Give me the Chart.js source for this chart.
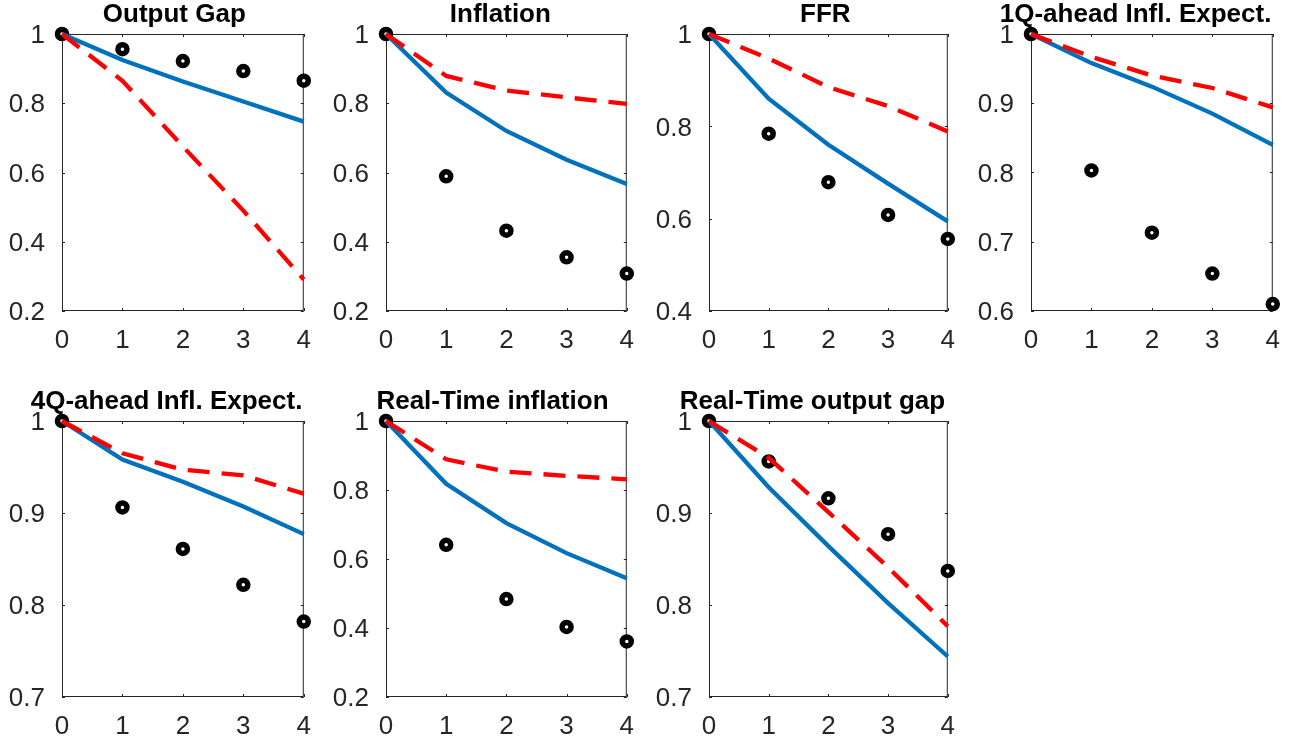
<!DOCTYPE html>
<html><head><meta charset="utf-8">
<script src="https://cdn.jsdelivr.net/npm/chart.js@4.4.1/dist/chart.umd.min.js"></script>
<style>
html,body{margin:0;padding:0;background:#fff;width:1298px;height:743px;overflow:hidden}
.panel{position:absolute}
</style></head><body>
<script>
// ---------- data ----------
const horizons = [0, 1, 2, 3, 4];
const titles = ['Output Gap', 'Inflation', 'FFR', '1Q-ahead Infl. Expect.',
                '4Q-ahead Infl. Expect.', 'Real-Time inflation', 'Real-Time output gap'];

// solid blue line
const solidOutputGap  = [1, 0.925, 0.863, 0.805, 0.747];
const solidInflation  = [1, 0.831, 0.720, 0.637, 0.567];
const solidFFR        = [1, 0.860, 0.760, 0.676, 0.594];
const solid1Q         = [1, 0.958, 0.924, 0.885, 0.840];
const solid4Q         = [1, 0.958, 0.934, 0.907, 0.877];
const solidRTInfl     = [1, 0.818, 0.704, 0.617, 0.544];
const solidRTGap      = [1, 0.928, 0.864, 0.802, 0.744];

// dashed red line
const dashedOutputGap = [1, 0.865, 0.675, 0.490, 0.291];
const dashedInflation = [1, 0.879, 0.837, 0.817, 0.798];
const dashedFFR       = [1, 0.947, 0.885, 0.844, 0.789];
const dashed1Q        = [1, 0.967, 0.940, 0.922, 0.894];
const dashed4Q        = [1, 0.965, 0.947, 0.941, 0.921];
const dashedRTInfl    = [1, 0.889, 0.853, 0.841, 0.831];
const dashedRTGap     = [1, 0.960, 0.901, 0.841, 0.777];

// black circles
const dotsOutputGap   = [1, 0.956, 0.922, 0.893, 0.865];
const dotsInflation   = [1, 0.589, 0.432, 0.355, 0.308];
const dotsFFR         = [1, 0.784, 0.679, 0.608, 0.556];
const dots1Q          = [1, 0.803, 0.713, 0.654, 0.610];
const dots4Q          = [1, 0.906, 0.861, 0.822, 0.782];
const dotsRTInfl      = [1, 0.641, 0.484, 0.403, 0.361];
const dotsRTGap       = [1, 0.956, 0.916, 0.877, 0.837];

// y tick values per panel
const yTicksA = [0.2, 0.4, 0.6, 0.8, 1];
const yTicksB = [0.4, 0.6, 0.8, 1];
const yTicksC = [0.6, 0.7, 0.8, 0.9, 1];
const yTicksD = [0.7, 0.8, 0.9, 1];

const solidSeries  = [solidOutputGap, solidInflation, solidFFR, solid1Q, solid4Q, solidRTInfl, solidRTGap];
const dashedSeries = [dashedOutputGap, dashedInflation, dashedFFR, dashed1Q, dashed4Q, dashedRTInfl, dashedRTGap];
const dotSeries    = [dotsOutputGap, dotsInflation, dotsFFR, dots1Q, dots4Q, dotsRTInfl, dotsRTGap];
const yTickSets    = [yTicksA, yTicksA, yTicksB, yTicksC, yTicksD, yTicksA, yTicksD];

// ---------- layout ----------
const plotLefts   = [62, 386, 709, 1031, 62, 386, 709];
const plotWidths  = [247, 246, 244, 247, 247, 246, 244];
const plotTops    = [34, 34, 34, 34, 421, 421, 421];
const plotHeights = [277, 277, 277, 277, 276, 276, 276];
const AXW = 62, TOPH = 34, BOTH = 46, RIGHTPAD = 16;
const FONT = '"Liberation Sans", Arial, Helvetica, sans-serif';
const AXCOL = '#262626';

const matlabPlugin = {
  id: 'matlab',
  beforeDatasetsDraw(chart) {
    const {ctx, chartArea: a, scales: {x, y}} = chart;
    ctx.save();
    ctx.strokeStyle = AXCOL;
    ctx.lineWidth = 1;
    ctx.strokeRect(a.left + 0.5, a.top + 0.5, a.right - a.left - 1, a.bottom - a.top - 1);
    const L = 3;
    ctx.beginPath();
    x.ticks.forEach(t => {
      const px = Math.round(x.getPixelForValue(t.value)) + 0.5;
      ctx.moveTo(px, a.bottom); ctx.lineTo(px, a.bottom - L);
      ctx.moveTo(px, a.top); ctx.lineTo(px, a.top + L);
    });
    y.ticks.forEach(t => {
      const py = Math.round(y.getPixelForValue(t.value)) + 0.5;
      ctx.moveTo(a.left, py); ctx.lineTo(a.left + L, py);
      ctx.moveTo(a.right, py); ctx.lineTo(a.right - L, py);
    });
    ctx.stroke();
    ctx.restore();
  },
  afterDraw(chart, args, opts) {
    const {ctx, chartArea: a} = chart;
    ctx.save();
    ctx.font = 'bold 26px ' + FONT;
    ctx.fillStyle = '#000';
    ctx.textAlign = 'center';
    ctx.textBaseline = 'alphabetic';
    const w = ctx.measureText(opts.text).width;
    ctx.fillText(opts.text, (a.left + a.right) / 2 - 0.06 * w, a.top - 12);
    ctx.restore();
  }
};

for (let p = 0; p < titles.length; p++) {
  const div = document.createElement('div');
  div.className = 'panel';
  const cw = AXW + plotWidths[p] + RIGHTPAD;
  const ch = TOPH + plotHeights[p] + BOTH;
  div.style.left = (plotLefts[p] - AXW) + 'px';
  div.style.top = (plotTops[p] - TOPH) + 'px';
  div.style.width = cw + 'px';
  div.style.height = ch + 'px';
  const cv = document.createElement('canvas');
  cv.width = cw; cv.height = ch;
  cv.style.width = cw + 'px'; cv.style.height = ch + 'px';
  div.appendChild(cv);
  document.body.appendChild(div);

  const toPts = arr => horizons.map((h, i) => ({x: h, y: arr[i]}));
  const yt = yTickSets[p];

  new Chart(cv, {
    type: 'line',
    data: {
      datasets: [
        { data: toPts(dashedSeries[p]), borderColor: '#FF0000', borderWidth: 4.3,
          borderDash: [22, 12], pointRadius: 0, fill: false, tension: 0, clip: false },
        { data: toPts(solidSeries[p]), borderColor: '#0072BD', borderWidth: 4.3,
          pointRadius: 0, fill: false, tension: 0, clip: false },
        { data: toPts(dotSeries[p]), showLine: false, pointRadius: 4.5, pointBorderWidth: 5.5,
          pointBorderColor: '#000', pointBackgroundColor: '#fff', clip: false }
      ]
    },
    options: {
      responsive: false,
      animation: false,
      events: [],
      layout: { padding: { left: 0, top: TOPH, right: RIGHTPAD, bottom: 0 } },
      plugins: { legend: { display: false }, tooltip: { enabled: false }, title: { display: false },
                 matlab: { text: titles[p] } },
      scales: {
        x: {
          type: 'linear', min: horizons[0], max: horizons[horizons.length - 1],
          afterBuildTicks: s => { s.ticks = horizons.map(v => ({value: v})); },
          ticks: { callback: v => String(v), font: { size: 26, family: FONT }, color: AXCOL,
                   padding: 14, maxRotation: 0, autoSkip: false },
          grid: { display: false, drawTicks: false },
          border: { display: false },
          afterFit: s => { s.height = BOTH; }
        },
        y: {
          type: 'linear', min: yt[0], max: yt[yt.length - 1],
          afterBuildTicks: s => { s.ticks = yt.map(v => ({value: v})); },
          ticks: { callback: v => String(v), font: { size: 26, family: FONT }, color: AXCOL,
                   padding: 17, labelOffset: 2, autoSkip: false },
          grid: { display: false, drawTicks: false },
          border: { display: false },
          afterFit: s => { s.width = AXW; }
        }
      }
    },
    plugins: [matlabPlugin]
  });
}
</script>
</body></html>
